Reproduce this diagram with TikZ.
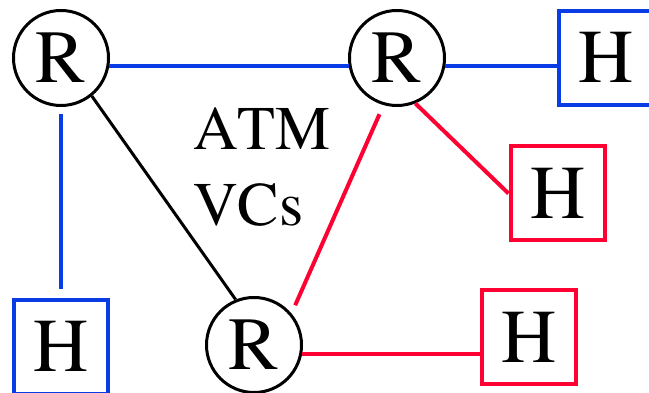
\documentclass[tikz,border=0pt]{standalone}
\usepackage[T1]{fontenc}
\usepackage{times}

\definecolor{vcblue}{RGB}{10,60,230}
\definecolor{vcred}{RGB}{255,0,50}

\tikzset{
	router/.style={draw,circle,line width=3pt,minimum size=95pt,inner sep=0pt,font=\fontsize{75}{75}\selectfont},
	host/.style={draw,line width=4pt,minimum size=94pt,inner sep=0pt,font=\fontsize{76}{76}\selectfont},
	link/.style={line width=4pt}
}

\begin{document}
\begin{tikzpicture}[x=1pt,y=1pt]
		\useasboundingbox (0,0) rectangle (649,393);
		
		% Routers
		\node[router] (R1) at (61,335) {R};
		\node[router] (R2) at (397,335) {R};
		\node[router] (R3) at (254,48) {R};
		
		% Hosts
		\node[host,draw=vcblue] (Ht) at (606,335) {H};
		\node[host,draw=vcred] (Hm) at (557.5,199.5) {H};
		\node[host,draw=vcred] (Hb) at (529,55.5) {H};
		\node[host,draw=vcblue] (Hl) at (61,46) {H};
		
		% Label
		\node[align=left,anchor=north west,inner sep=0pt,font=\fontsize{62}{76}\selectfont] (vcs) at (193,286) {A{}TM\\VCs};
		
		% Links
		\draw[link,vcblue] (R1.-9) -- (R2.189);
		\draw[link,vcblue] (R2.-9) -- (R2.-9 -| Ht.west);
		\draw[link,vcblue,shorten <=7pt,shorten >=9pt] (R1.south) -- (Hl.north);
		\draw[line width=3pt] (R1.309) -- (R3.112);
		\draw[link,vcred] (R2.292) -- (Hm.west);
		\draw[link,vcred,shorten <=10pt,shorten >=9pt] (R2.254) -- (R3.40);
		\draw[link,vcred] (R3.-10) -- (R3.-10 -| Hb.west);
		
\end{tikzpicture}
\end{document}
